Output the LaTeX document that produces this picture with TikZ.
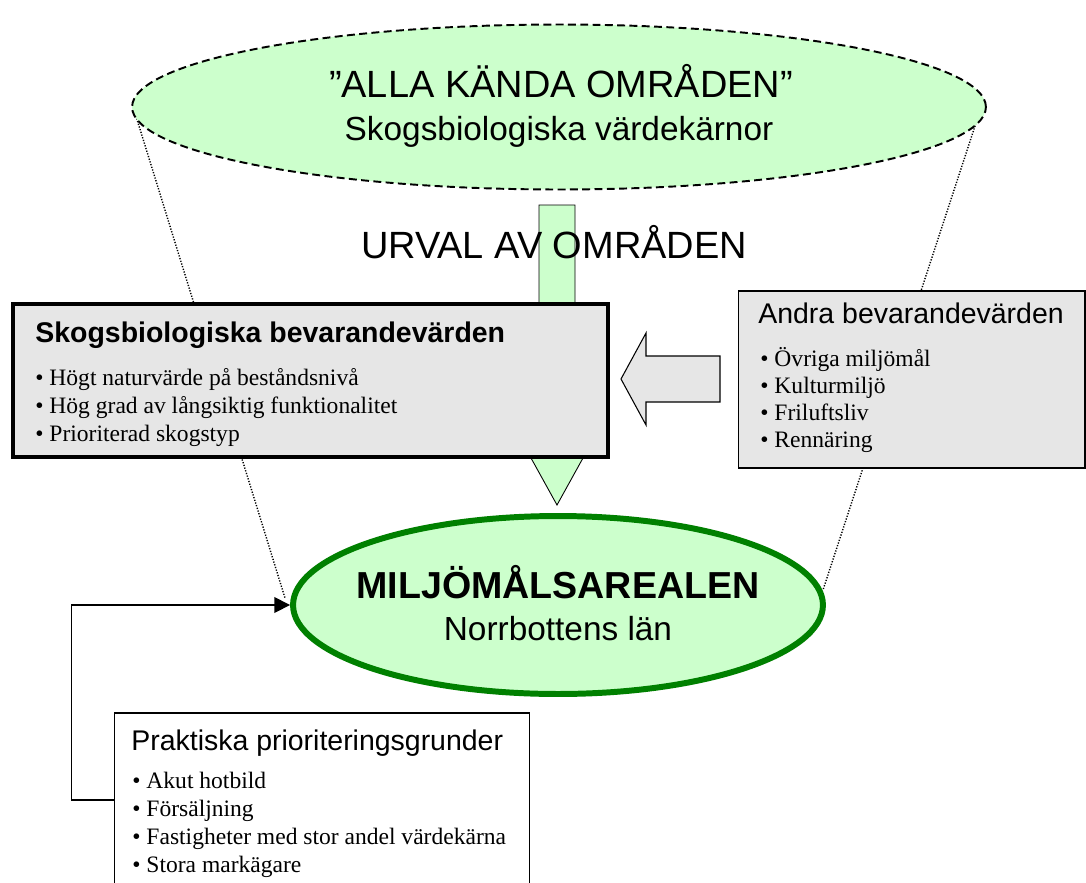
\documentclass[tikz,border=0pt]{standalone}
\usepackage{fontspec}
\setmainfont{Liberation Serif}
\newfontfamily\arialfont{Liberation Sans}
\usepackage{tikz}
\usetikzlibrary{positioning, arrows.meta, shapes.geometric}

\definecolor{paleGreen}{HTML}{CCFFCC}
\definecolor{boxGray}{HTML}{E6E6E6}
\definecolor{leafGreen}{HTML}{008000}

\tikzset{
    bigtext/.style={inner sep=0, anchor=base, font=\arialfont\fontsize{21.6}{24}\selectfont},
    subtext/.style={inner sep=0, anchor=base, font=\arialfont\fontsize{19}{22}\selectfont},
    boxtitle/.style={inner sep=0, anchor=base west, font=\arialfont\fontsize{16.2}{19}\selectfont},
    bulletitem/.style={inner sep=0, anchor=base west, font=\fontsize{13.4}{16}\selectfont},
    funnel/.style={line width=0.8pt, dash pattern=on 0.7pt off 0.9pt},
}

\begin{document}
\begin{tikzpicture}[x=0.02cm, y=-0.02cm]
    \useasboundingbox (0,0) rectangle (1086,883);
    % funnel edges, behind everything
    \coordinate (fTL) at (135,113);
    \coordinate (fTR) at (976,123);
    \coordinate (fBL) at (285,598);
    \coordinate (fBR) at (823,590);
    \draw [funnel] (fTL) -- (fBL);
    \draw [funnel] (fTR) -- (fBR);

    \node (alla) [ellipse, draw, dash pattern=on 4.5pt off 2.5pt, line width=1.1pt, fill=paleGreen, inner sep=0, minimum width=17.08cm, minimum height=3.3cm] at (559,107) {};
    \node (allaT) [bigtext] at (561,97) {”ALLA KÄNDA OMRÅDEN”};
    \node (allaS) [subtext] at (559,140) {Skogsbiologiska värdekärnor};

    % selection arrow
    \draw [fill=paleGreen, line width=0.5pt] (539,205) -- (575,205) -- (575,458) -- (583,458) -- (557,505) -- (531,458) -- (539,458) -- cycle;
    \node (urval) [bigtext] at (554,258) {URVAL AV OMRÅDEN};

    \node (skog) [draw, line width=2.3pt, fill=boxGray, inner sep=0, minimum width=11.9cm, minimum height=3.06cm] at (310.5,380.5) {};
    \node (skogT) [boxtitle, font=\arialfont\bfseries\fontsize{16.2}{19}\selectfont] at (35,342) {Skogsbiologiska bevarandevärden};
    \node (skog1) [bulletitem] at (35,385) {• Högt naturvärde på beståndsnivå};
    \node (skog2) [bulletitem] at (35,413) {• Hög grad av långsiktig funktionalitet};
    \node (skog3) [bulletitem] at (35,441) {• Prioriterad skogstyp};

    \node (andra) [draw, line width=0.6pt, fill=boxGray, inner sep=0, minimum width=6.94cm, minimum height=3.54cm] at (911.5,379.5) {};
    \node (andraT) [boxtitle] at (758,323) {Andra bevarandevärden};
    \node (andra1) [bulletitem] at (760,366) {• Övriga miljömål};
    \node (andra2) [bulletitem] at (760,393) {• Kulturmiljö};
    \node (andra3) [bulletitem] at (760,420) {• Friluftsliv};
    \node (andra4) [bulletitem] at (760,447) {• Rennäring};

    % hollow arrow from the other values
    \draw [fill=boxGray, line width=0.6pt] (720,356) -- (646,356) -- (646,333) -- (621,379) -- (646,425) -- (646,402) -- (720,402) -- cycle;

    \node (mil) [ellipse, draw=leafGreen, line width=3.4pt, fill=paleGreen, inner sep=0, minimum width=10.6cm, minimum height=3.56cm] at (558,605) {};
    \node (milT) [bigtext, font=\arialfont\bfseries\fontsize{21.4}{24}\selectfont] at (558,598) {MILJÖMÅLSAREALEN};
    \node (milS) [subtext] at (558,640) {Norrbottens län};

    \node (prak) [draw, line width=0.6pt, fill=white, inner sep=0, minimum width=8.32cm, minimum height=3.48cm] at (322,800) {};
    \node (prakT) [boxtitle] at (131,750) {Praktiska prioriteringsgrunder};
    \node (prak1) [bulletitem] at (132,788) {• Akut hotbild};
    \node (prak2) [bulletitem] at (132,816) {• Försäljning};
    \node (prak3) [bulletitem] at (132,844) {• Fastigheter med stor andel värdekärna};
    \node (prak4) [bulletitem] at (132,872) {• Stora markägare};

    \draw [line width=0.9pt, -{Triangle[length=9pt, width=9pt]}] (prak.west) -- ++(-42,0) |- (mil.west);
\end{tikzpicture}
\end{document}
